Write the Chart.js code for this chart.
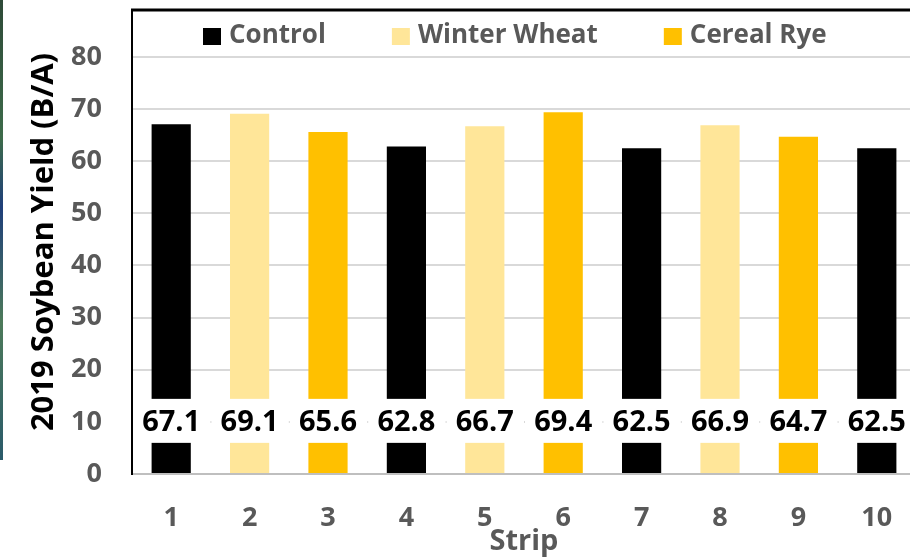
<!DOCTYPE html>
<html>
<head>
<meta charset="utf-8">
<script src="https://cdn.jsdelivr.net/npm/chart.js@4/dist/chart.umd.min.js"></script>
<style>
  html, body { margin: 0; padding: 0; background: #fff; overflow: hidden; }
  #wrap { position: relative; width: 922px; height: 557px; }
  #yieldchart { display: block; }
  #edge { position: absolute; left: 0; top: 0; width: 3px; height: 460px;
          background: linear-gradient(#2e4a38, #3d6b4a 30%, #1f3f7a 45%, #4d7a5a 70%, #2a5a6a); }
</style>
</head>
<body>
<div id="wrap">
  <canvas id="yieldchart" width="922" height="557"></canvas>
  <div id="edge"></div>
</div>
<script>
// strips and yields
const strips = ["1", "2", "3", "4", "5", "6", "7", "8", "9", "10"];
const treatments = ["Control", "Winter Wheat", "Cereal Rye", "Control", "Winter Wheat",
                    "Cereal Rye", "Control", "Winter Wheat", "Cereal Rye", "Control"];
const yields = [67.1, 69.1, 65.6, 62.8, 66.7, 69.4, 62.5, 66.9, 64.7, 62.5];
const treatmentNames = ["Control", "Winter Wheat", "Cereal Rye"];
const treatmentColors = ["#000000", "#FFE699", "#FFC000"];
const yTicks = [0, 10, 20, 30, 40, 50, 60, 70, 80];

const boldFont = '"Open Sans", sans-serif';

// white boxes with the value printed at y = 10, like the excel labels
const valueLabels = {
    id: "valueLabels",
    afterDatasetsDraw(chart) {
        const ctx = chart.ctx;
        const x = chart.scales.x;
        const y = chart.scales.y;
        const step = (x.right - x.left) / strips.length;
        const yMid = y.getPixelForValue(10);
        ctx.save();
        strips.forEach((s, i) => {
            const cx = x.getPixelForValue(i);
            ctx.fillStyle = "#ffffff";
            ctx.fillRect(cx - step / 2 + 1, yMid - 23, step - 1, 44);
            ctx.fillStyle = "#000000";
            ctx.font = "bold 29px " + boldFont;
            ctx.textAlign = "center";
            ctx.textBaseline = "middle";
            ctx.fillText(yields[i].toFixed(1), cx, yMid + 1);
        });
        ctx.restore();
    },
    afterDraw(chart) {
        const ctx = chart.ctx;
        const a = chart.chartArea;
        ctx.save();
        // top border of the plot
        ctx.strokeStyle = "#000000";
        ctx.lineWidth = 3;
        ctx.beginPath();
        ctx.moveTo(a.left - 1, a.top);
        ctx.lineTo(chart.width, a.top);
        ctx.stroke();

        // legend inside the plot, one row
        ctx.font = "bold 26px " + boldFont;
        ctx.textBaseline = "middle";
        ctx.textAlign = "left";
        const gapBox = 8, gapItem = 66, box = 18;
        let lx = 203;
        const ly = a.top + 26;
        treatmentNames.forEach((n, k) => {
            ctx.fillStyle = treatmentColors[k];
            ctx.fillRect(lx, ly - 8, box, 17);
            ctx.fillStyle = "#595959";
            ctx.fillText(n, lx + box + gapBox, ly);
            lx += box + gapBox + ctx.measureText(n).width + gapItem;
        });
        ctx.restore();
    },
};

const ctx = document.getElementById("yieldchart").getContext("2d");

const datasets = treatmentNames.map((name, k) => ({
    label: name,
    data: yields.map((v, i) => (treatments[i] === name ? v : null)),
    backgroundColor: treatmentColors[k],
    borderWidth: 0,
    barPercentage: 0.5,
    categoryPercentage: 1.0,
    grouped: false,
}));

const chart = new Chart(ctx, {
    type: "bar",
    data: { labels: strips, datasets: datasets },
    options: {
        responsive: false,
        animation: false,
        devicePixelRatio: 1,
        layout: { padding: { left: 26, right: 6, top: 10, bottom: 0 } },
        plugins: {
            legend: { display: false },
            tooltip: { enabled: false },
        },
        scales: {
            x: {
                afterFit: (axis) => {
                    axis.height = 83;
                    axis.paddingLeft = 0;
                    axis.paddingRight = 0;
                },
                grid: { display: false },
                border: { color: "#BFBFBF", width: 2 },
                ticks: {
                    color: "#595959",
                    padding: 20,
                    maxRotation: 0,
                    font: { family: boldFont, size: 27, weight: "bold" },
                },
                title: {
                    display: true,
                    text: "Strip",
                    color: "#595959",
                    padding: { top: 0, bottom: -2 },
                    font: { family: boldFont, size: 29, weight: "bold" },
                },
            },
            y: {
                min: 0,
                max: 89,
                afterBuildTicks: (axis) => {
                    axis.ticks = yTicks.map((v) => ({ value: v }));
                },
                afterFit: (axis) => {
                    axis.width = 106;
                    axis.paddingTop = 0;
                    axis.paddingBottom = 0;
                },
                grid: {
                    color: (c) => (c.tick && c.tick.value === 0 ? "rgba(0,0,0,0)" : "#D9D9D9"),
                    lineWidth: 2,
                    drawTicks: false,
                },
                border: { color: "#000000", width: 2 },
                ticks: {
                    color: "#595959",
                    padding: 30,
                    font: { family: boldFont, size: 27, weight: "bold" },
                },
                title: {
                    display: true,
                    text: "2019 Soybean Yield (B/A)",
                    color: "#000000",
                    padding: { top: 0, bottom: 8 },
                    font: { family: boldFont, size: 31, weight: "bold" },
                },
            },
        },
    },
    plugins: [valueLabels],
});
</script>
</body>
</html>
